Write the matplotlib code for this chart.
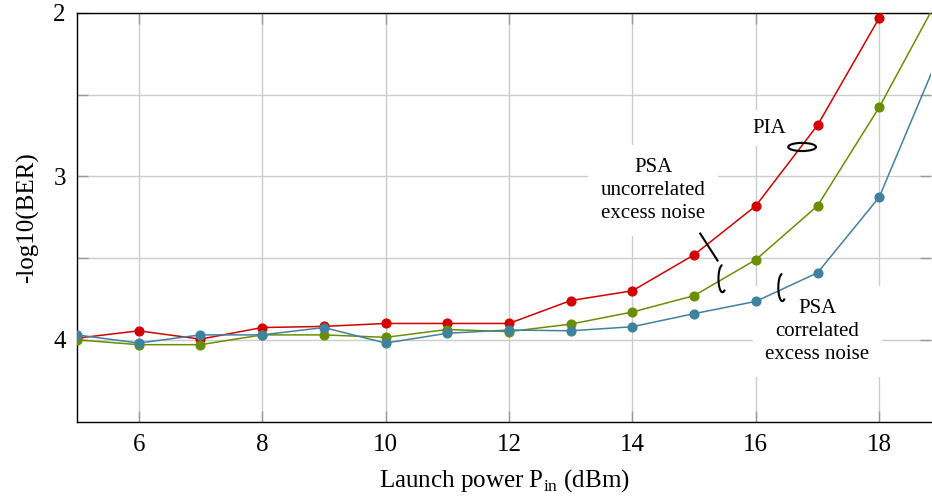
import numpy as np
import matplotlib.pyplot as plt
from matplotlib.patches import Ellipse, Arc

plt.rcParams['font.family'] = ['Liberation Serif', 'DejaVu Serif']
plt.rcParams['mathtext.fontset'] = 'custom'
plt.rcParams['mathtext.rm'] = 'Liberation Serif'

# Launch power (dBm); last point lies beyond the visible range
power = [5, 6, 7, 8, 9, 10, 11, 12, 13, 14, 15, 16, 17, 18, 19]

# -log10(BER) values
pia = [3.99, 3.945, 3.996, 3.925, 3.918, 3.90, 3.90, 3.90, 3.76, 3.70,
       3.48, 3.18, 2.687, 2.03, 1.37]
psa_uncorr = [4.0, 4.03, 4.03, 3.97, 3.97, 3.985, 3.937, 3.95, 3.904, 3.83,
              3.73, 3.51, 3.18, 2.577, 1.88]
psa_corr = [3.97, 4.02, 3.97, 3.97, 3.925, 4.02, 3.96, 3.94, 3.945, 3.92,
            3.84, 3.765, 3.59, 3.127, 2.23]

red = '#d40000'
green = '#6b8e00'
blue = '#3f82a0'

fig = plt.figure(figsize=(9.32, 4.99), dpi=100)
ax = fig.add_axes([0.0826, 0.1553, 0.9164, 0.8187])

ax.plot(power, pia, color=red, lw=1.1, marker='o', ms=6.3, zorder=3)
ax.plot(power, psa_uncorr, color=green, lw=1.1, marker='o', ms=6.3, zorder=3)
ax.plot(power, psa_corr, color=blue, lw=1.1, marker='o', ms=6.3, zorder=3)

ax.set_xlim(5, 18.84)
ax.set_ylim(4.5, 2)
ax.set_xticks([6, 8, 10, 12, 14, 16, 18])
ax.set_yticks([2, 3, 4])
ax.set_yticks([2.5, 3.5], minor=True)
ax.grid(True, which='both', color='#cccccc', lw=1)
ax.set_axisbelow(True)

ax.tick_params(which='both', direction='in', length=8, width=1, color='#999999',
               top=True, right=True, labelsize=18)
ax.tick_params(axis='x', pad=9)
ax.tick_params(axis='y', pad=8)
ax.spines['right'].set_visible(False)
for s in ['left', 'bottom', 'top']:
    ax.spines[s].set_linewidth(1)

ax.set_xlabel(r'Launch power P$_{\mathrm{in}}$ (dBm)', fontsize=18, labelpad=8)
ax.set_ylabel('-log10(BER)', fontsize=18, labelpad=10)

# PIA
ax.text(16.22, 2.705, 'PIA', fontsize=15, ha='center', va='center', zorder=1.5,
        bbox=dict(facecolor='white', edgecolor='none', pad=6))
ax.add_patch(Ellipse((16.75, 2.82), 0.45, 0.05, fill=False, lw=1.5,
                     color='black', zorder=4))

# PSA uncorrelated excess noise
ax.text(14.34, 3.086, 'PSA\nuncorrelated\nexcess noise', fontsize=15,
        ha='center', va='center', linespacing=1.3, zorder=1.5,
        bbox=dict(facecolor='white', edgecolor='none', pad=9))
ax.plot([15.10, 15.38], [3.35, 3.515], color='black', lw=1.5, zorder=4)
ax.add_patch(Arc((15.46, 3.626), 0.13, 0.166, theta1=60, theta2=270, lw=1.5,
                 color='black', zorder=4))

# PSA correlated excess noise
ax.text(17.0, 3.95, 'PSA\ncorrelated\nexcess noise', fontsize=15,
        ha='center', va='center', linespacing=1.3, zorder=1.5,
        bbox=dict(facecolor='white', edgecolor='none', pad=9))
ax.add_patch(Arc((16.43, 3.68), 0.13, 0.166, theta1=60, theta2=270, lw=1.5,
                 color='black', zorder=4))

fig.savefig('out.png', dpi=100)
